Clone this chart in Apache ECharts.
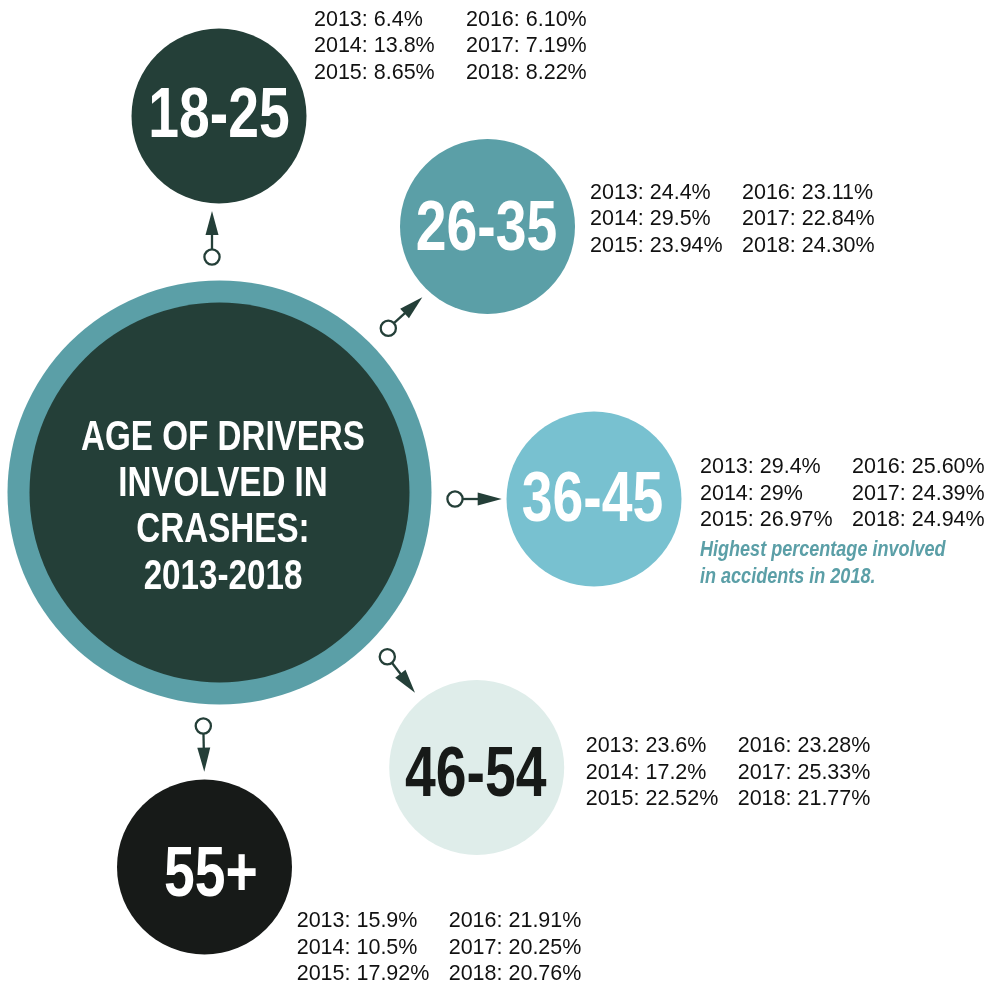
<!DOCTYPE html>
<html>
<head>
<meta charset="utf-8">
<title>Age of drivers involved in crashes: 2013-2018</title>
<script src="https://cdn.jsdelivr.net/npm/echarts/dist/echarts.min.js"></script>
<style>
  html, body { margin: 0; padding: 0; background: #fff; }
  #chart { width: 987px; height: 983px; }
</style>
</head>
<body>
<div id="chart"></div>
<script>
// ---- data ----
const ageGroups = ['18-25', '26-35', '36-45', '46-54', '55+'];
const years = ['2013', '2014', '2015', '2016', '2017', '2018'];
// shares kept as printed, so "6.10" and "29" keep their form
const share18to25 = ['6.4', '13.8', '8.65', '6.10', '7.19', '8.22'];
const share26to35 = ['24.4', '29.5', '23.94', '23.11', '22.84', '24.30'];
const share36to45 = ['29.4', '29', '26.97', '25.60', '24.39', '24.94'];
const share46to54 = ['23.6', '17.2', '22.52', '23.28', '25.33', '21.77'];
const share55plus = ['15.9', '10.5', '17.92', '21.91', '20.25', '20.76'];
const shares = [share18to25, share26to35, share36to45, share46to54, share55plus];
const titleLines = ['AGE OF DRIVERS', 'INVOLVED IN', 'CRASHES:', '2013-2018'];
const noteLines = ['Highest percentage involved', 'in accidents in 2018.'];

// ---- layout (hidden axes map 1:1 onto the canvas pixels) ----
const hubCenter = [219.5, 492.5];
const bubbleCenters = [[219, 116], [487.5, 226.5], [594, 499], [476.7, 767.5], [204.5, 867]];
const bubbleColors = ['#243f38', '#5b9fa7', '#78c1d0', '#dfedea', '#171a18'];
const labelColors = ['#fff', '#fff', '#fff', '#171a18', '#fff'];
const labelShift = [[0, 1.5], [-1, 4.5], [-1.5, 2.5], [-1, 9], [6.5, 10]];
const statAnchors = [[314, 20], [590, 193], [700, 467.2], [585.7, 746.5], [296.7, 921.5]];
const notePos = [700, 549.5];
const arrowPaths = [
  [212, 257, 212, 211],
  [388.3, 328.3, 422.3, 297.3],
  [455, 499, 501.7, 499],
  [387.3, 656.7, 415, 692.7],
  [203.3, 726, 204.3, 771.7]
];

// no condensed face is installed, so bold text is squeezed horizontally
const squeeze = 0.79;
const bold = '"Liberation Sans", Arial, sans-serif';
const regular = '"Liberation Sans", Arial, sans-serif';
const dark = '#243f38';
const teal = '#5b9fa7';

const chart = echarts.init(document.getElementById('chart'));

function textEl(p, text, style, sx) {
  return {
    type: 'text', x: p[0], y: p[1], scaleX: sx || 1,
    style: Object.assign({ text: text, verticalAlign: 'middle' }, style)
  };
}

const option = {
  animation: false,
  backgroundColor: '#fff',
  grid: { left: 0, right: 0, top: 0, bottom: 0 },
  xAxis: { type: 'value', min: 0, max: 987, show: false },
  yAxis: { type: 'value', min: 0, max: 983, inverse: true, show: false },
  series: [
    {
      // big hub: teal ring with dark disc
      type: 'scatter',
      silent: true,
      z: 1,
      data: [
        { value: hubCenter, symbolSize: 424, itemStyle: { color: teal, opacity: 1 } },
        { value: hubCenter, symbolSize: 380, itemStyle: { color: dark, opacity: 1 } }
      ]
    },
    {
      type: 'scatter',
      silent: true,
      z: 2,
      data: ageGroups.map((g, i) => ({
        name: g,
        value: bubbleCenters[i],
        symbolSize: 175,
        itemStyle: { color: bubbleColors[i], opacity: 1 }
      }))
    },
    {
      // hub title
      type: 'custom',
      silent: true,
      z: 3,
      data: [hubCenter],
      renderItem: function (params, api) {
        return {
          type: 'group',
          children: titleLines.map(function (t, k) {
            const p = api.coord([api.value(0) + 3.5, api.value(1) - 54 + k * 46.2]);
            return textEl(p, t, {
              fill: '#fff', fontFamily: bold, fontWeight: 'bold', fontSize: 42, align: 'center'
            }, squeeze);
          })
        };
      }
    },
    {
      // age group names inside the bubbles
      type: 'custom',
      silent: true,
      z: 3,
      data: bubbleCenters,
      renderItem: function (params, api) {
        const i = params.dataIndex;
        const p = api.coord([api.value(0) + labelShift[i][0], api.value(1) + labelShift[i][1]]);
        return textEl(p, ageGroups[i], {
          fill: labelColors[i], fontFamily: bold, fontWeight: 'bold', fontSize: 70, align: 'center'
        }, squeeze);
      }
    },
    {
      // yearly percentages beside each bubble, two columns of three
      type: 'custom',
      silent: true,
      z: 3,
      data: statAnchors,
      renderItem: function (params, api) {
        const vals = shares[params.dataIndex];
        const children = years.map(function (y, k) {
          const col = k < 3 ? 0 : 1;
          const row = k % 3;
          const p = api.coord([api.value(0) + col * 152, api.value(1) + row * 26.5]);
          return textEl(p, y + ': ' + vals[k] + '%', {
            fill: '#111', fontFamily: regular, fontSize: 21.5, align: 'left'
          });
        });
        return { type: 'group', children: children };
      }
    },
    {
      type: 'custom',
      silent: true,
      z: 3,
      data: [notePos],
      renderItem: function (params, api) {
        const children = noteLines.map(function (t, k) {
          const p = api.coord([api.value(0), api.value(1) + k * 27]);
          return textEl(p, t, {
            fill: teal, fontFamily: bold, fontSize: 22,
            fontWeight: 'bold', fontStyle: 'italic', align: 'left'
          }, 0.82);
        });
        return { type: 'group', children: children };
      }
    },
    {
      // connectors: open circle, stem and filled arrow head
      type: 'custom',
      silent: true,
      z: 4,
      data: arrowPaths,
      encode: { x: [0, 2], y: [1, 3] },
      renderItem: function (params, api) {
        const a = api.coord([api.value(0), api.value(1)]);
        const b = api.coord([api.value(2), api.value(3)]);
        const dx = b[0] - a[0], dy = b[1] - a[1];
        const len = Math.sqrt(dx * dx + dy * dy);
        const ux = dx / len, uy = dy / len;
        const r = 7.6, head = 24, half = 6.5;
        const bx = b[0] - ux * head, by = b[1] - uy * head;
        return {
          type: 'group',
          children: [
            {
              type: 'line',
              shape: { x1: a[0] + ux * r, y1: a[1] + uy * r, x2: bx + ux * 2, y2: by + uy * 2 },
              style: { stroke: dark, lineWidth: 2.3 }
            },
            {
              type: 'polygon',
              shape: { points: [b, [bx - uy * half, by + ux * half], [bx + uy * half, by - ux * half]] },
              style: { fill: dark }
            },
            {
              type: 'circle',
              shape: { cx: a[0], cy: a[1], r: r },
              style: { fill: '#fff', stroke: dark, lineWidth: 2.3 }
            }
          ]
        };
      }
    }
  ]
};

chart.setOption(option);
</script>
</body>
</html>
